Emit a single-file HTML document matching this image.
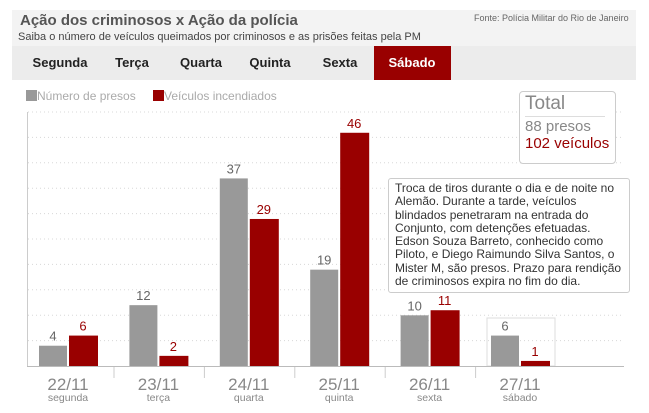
<!DOCTYPE html>
<html><head><meta charset="utf-8">
<style>
body{margin:0;width:649px;height:413px;background:#fff;font-family:"Liberation Sans",sans-serif;position:relative;overflow:hidden}
.a{position:absolute}
.tab{position:absolute;top:46px;height:34px;line-height:34px;font-size:13px;font-weight:bold;color:#222;text-align:center;transform:translateX(-50%);white-space:nowrap}
</style></head><body>
<div class="a" style="left:12px;top:10px;width:624px;height:36px;background:#f3f3f3"></div>
<div class="a" style="left:20px;top:12px;font-size:15px;font-weight:bold;color:#555">Ação dos criminosos x Ação da polícia</div>
<div class="a" style="left:18px;top:31px;font-size:11px;color:#444">Saiba o número de veículos queimados por criminosos e as prisões feitas pela PM</div>
<div class="a" style="left:474px;top:13px;font-size:9px;color:#666">Fonte: Polícia Militar do Rio de Janeiro</div>
<div class="a" style="left:12px;top:46px;width:624px;height:34px;background:#ececec"></div>
<div class="a" style="left:374px;top:46px;width:77px;height:34px;background:#990000"></div>
<div class="tab" style="left:60px">Segunda</div>
<div class="tab" style="left:132px">Terça</div>
<div class="tab" style="left:201px">Quarta</div>
<div class="tab" style="left:270px">Quinta</div>
<div class="tab" style="left:340px">Sexta</div>
<div class="tab" style="left:412px;color:#fff">Sábado</div>
<div class="a" style="left:26px;top:89px;font-size:12px;color:#aaa"><span style="display:inline-block;width:11px;height:11px;background:#999;vertical-align:-1px"></span>Número de presos</div>
<div class="a" style="left:153px;top:89px;font-size:12px;color:#aaa"><span style="display:inline-block;width:11px;height:11px;background:#990000;vertical-align:-1px"></span>Veículos incendiados</div>
<svg class="a" style="left:0;top:0" width="649" height="413" id="chart"></svg>
<div class="a" style="left:519px;top:91px;width:95px;height:71px;border:1px solid #ccc;border-radius:4px;background:#fff"></div>
<div class="a" style="left:525px;top:93px;font-size:19px;color:#888">Total</div>
<div class="a" style="left:525px;top:116px;width:80px;border-top:1px solid #ddd"></div>
<div class="a" style="left:525px;top:118px;font-size:15px;color:#888">88 presos</div>
<div class="a" style="left:525px;top:135px;font-size:15px;color:#990000">102 veículos</div>
<div class="a" style="left:388px;top:178px;width:228px;height:107px;padding:3px 6px;border:1px solid #ccc;border-radius:3px;background:#fff;font-size:12px;line-height:13.3px;color:#333">Troca de tiros durante o dia e de noite no Alemão. Durante a tarde, veículos blindados penetraram na entrada do Conjunto, com detenções efetuadas. Edson Souza Barreto, conhecido como Piloto, e Diego Raimundo Silva Santos, o Mister M, são presos. Prazo para rendição de criminosos expira no fim do dia.</div>
<script>
const dates=["22/11","23/11","24/11","25/11","26/11","27/11"];
const days=["segunda","terça","quarta","quinta","sexta","sábado"];
const presos=[4,12,37,19,10,6];
const veiculos=[6,2,29,46,11,1];
const NS="http://www.w3.org/2000/svg";
const svg=document.getElementById('chart');
const base=366,unit=5.07,x0=39,step=90.4,bw=28;
const y=v=>base-v*unit;
const gx=i=>x0+i*step;
function mk(t,a,txt){const e=document.createElementNS(NS,t);for(const k in a)e.setAttribute(k,a[k]);if(txt!==undefined)e.textContent=txt;svg.appendChild(e);return e;}
for(let k=1;k<=10;k++){const g=mk('line',{x1:28,x2:624,y1:base-25.4*k,y2:base-25.4*k,stroke:'#d8d8d8','stroke-dasharray':'1 3'});

}
const hb=mk('rect',{x:gx(5)-4,y:318,width:68,height:48,fill:'none',stroke:'#ddd'});


const ax=mk('line',{x1:27.5,x2:27.5,y1:112,y2:366,stroke:'#ccc'});


dates.forEach((d,i)=>{
 const x=gx(i);
 const r1=mk('rect',{x:x,y:y(presos[i]),width:bw,height:presos[i]*unit,fill:'#999'});
 
 
 const r2=mk('rect',{x:x+bw+2,y:y(veiculos[i]),width:bw+1,height:veiculos[i]*unit,fill:'#990000'});
 
 
 const t1=mk('text',{x:x+bw/2,y:y(presos[i])-5,'text-anchor':'middle','font-size':13,fill:'#666','font-family':'Liberation Sans'},presos[i]);
 
 
 const t2=mk('text',{x:x+bw*1.5+2,y:y(veiculos[i])-5,'text-anchor':'middle','font-size':13,fill:'#990000','font-family':'Liberation Sans'},veiculos[i]);
 
 
 const c=x+bw+1;
 const l1=mk('text',{x:c,y:390,'text-anchor':'middle','font-size':17,fill:'#888','font-family':'Liberation Sans'},d);
 
 
 const l2=mk('text',{x:c,y:401,'text-anchor':'middle','font-size':10.5,fill:'#888','font-family':'Liberation Sans'},days[i]);
 
 
 if(i<5){const s=mk('line',{x1:x+75,x2:x+75,y1:367,y2:378,stroke:'#ccc'});
 
 }
});
const xa=mk('line',{x1:27,x2:624,y1:366.5,y2:366.5,stroke:'#bbb'});


</script>
</body></html>
